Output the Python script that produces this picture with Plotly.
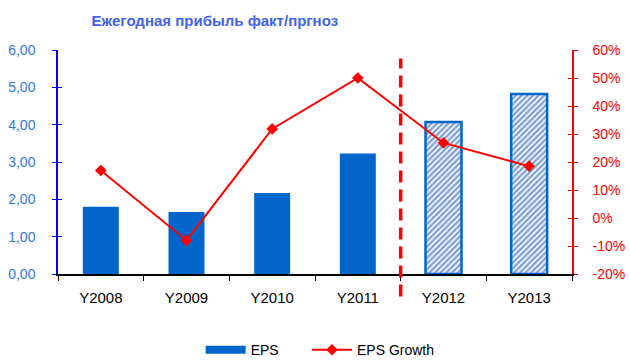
import plotly.graph_objects as go

categories = ["Y2008", "Y2009", "Y2010", "Y2011", "Y2012", "Y2013"]
eps = [1.80, 1.66, 2.17, 3.23, 4.07, 4.82]
eps_growth = [0.17, -0.08, 0.318, 0.50, 0.268, 0.185]
forecast = [False, False, False, False, True, True]

left_ticks = [0, 1, 2, 3, 4, 5, 6]
left_labels = ["0,00", "1,00", "2,00", "3,00", "4,00", "5,00", "6,00"]
right_ticks = [-0.2, -0.1, 0, 0.1, 0.2, 0.3, 0.4, 0.5, 0.6]
right_labels = ["-20%", "-10%", "0%", "10%", "20%", "30%", "40%", "50%", "60%"]

BLUE = "#0066CC"
RED = "#FF0000"
FONT = "Liberation Sans, Arial, sans-serif"

fig = go.Figure()
fig.add_trace(go.Bar(
    x=categories, y=eps, name="EPS", width=0.42, showlegend=False,
    marker=dict(
        color=BLUE,
        line=dict(color=BLUE, width=[2.5 if f else 0 for f in forecast]),
        pattern=dict(shape=["/" if f else "" for f in forecast],
                     fgcolor="#0040A8", bgcolor="white", size=4, solidity=0.6),
    ),
    yaxis="y",
))
# legend swatch for EPS (wide flat rectangle like the reference)
fig.add_trace(go.Scatter(x=[None], y=[None], name="EPS" + "\u00a0" * 6, mode="lines",
                         line=dict(color=BLUE, width=8), yaxis="y"))
fig.add_trace(go.Scatter(
    x=categories, y=eps_growth, name="EPS Growth", mode="lines+markers",
    line=dict(color=RED, width=2),
    marker=dict(symbol="diamond", size=9, color=RED),
    yaxis="y2",
))

# vertical dashed divider between actual and forecast
fig.add_shape(type="line", xref="x", yref="paper", x0=3.5, x1=3.5,
              y0=-0.10, y1=0.962, line=dict(color=RED, width=3.5, dash="12px,7px"))

fig.update_layout(
    width=630, height=360,
    margin=dict(l=58, r=58, t=50, b=86, autoexpand=False),
    plot_bgcolor="white", paper_bgcolor="white",
    font=dict(family=FONT, size=14, color="black"),
    title=dict(text="<b>Ежегодная прибыль факт/пргноз</b>", x=0.341, xanchor="center",
               xref="container", yref="container", automargin=False,
               y=0.942, yanchor="middle", font=dict(size=15, color="#3F63EE", family=FONT)),
    showlegend=True,
    legend=dict(orientation="h", x=0.51, xanchor="center", y=-0.34, yanchor="middle",
                font=dict(size=14, color="black"), itemwidth=40),
    xaxis=dict(showline=True, linecolor="black", linewidth=1.5, ticks="outside",
               tickson="boundaries", ticklen=5, tickcolor="black", showgrid=False,
               automargin=False, ticklabelstandoff=9, tickfont=dict(size=15, color="black")),
    yaxis=dict(range=[0, 6], tickvals=left_ticks, ticktext=left_labels, automargin=False,
               showline=True, linecolor="#0000FF", linewidth=1.5, ticks="outside",
               ticklen=4, tickcolor="#0000FF", showgrid=False, zeroline=False,
               ticklabelstandoff=14, tickfont=dict(size=14, color="#3377DD")),
    yaxis2=dict(range=[-0.2, 0.6], tickvals=right_ticks, ticktext=right_labels,
                overlaying="y", side="right", showline=True, linecolor=RED, linewidth=1.5,
                automargin=False,
                ticks="outside", ticklen=4, tickcolor=RED, showgrid=False, zeroline=False,
                ticklabelstandoff=12, tickfont=dict(size=14, color=RED)),
    yaxis3=dict(range=[0, 6], tickvals=left_ticks, overlaying="y", side="left",
                showticklabels=False, ticks="inside", ticklen=4, tickcolor="#0000FF",
                automargin=False, showgrid=False, zeroline=False, showline=False),
    yaxis4=dict(range=[-0.2, 0.6], tickvals=right_ticks, overlaying="y", side="right",
                showticklabels=False, ticks="inside", ticklen=4, tickcolor=RED,
                automargin=False, showgrid=False, zeroline=False, showline=False),
)
# invisible traces to activate the extra tick axes
fig.add_trace(go.Scatter(x=[categories[0]], y=[0], yaxis="y3", mode="markers",
                         marker=dict(opacity=0), showlegend=False, hoverinfo="skip"))
fig.add_trace(go.Scatter(x=[categories[0]], y=[0], yaxis="y4", mode="markers",
                         marker=dict(opacity=0), showlegend=False, hoverinfo="skip"))

fig.write_html("out.html", config={"displayModeBar": False},
               post_script="document.body.style.margin='0px';document.body.style.overflow='hidden';")
